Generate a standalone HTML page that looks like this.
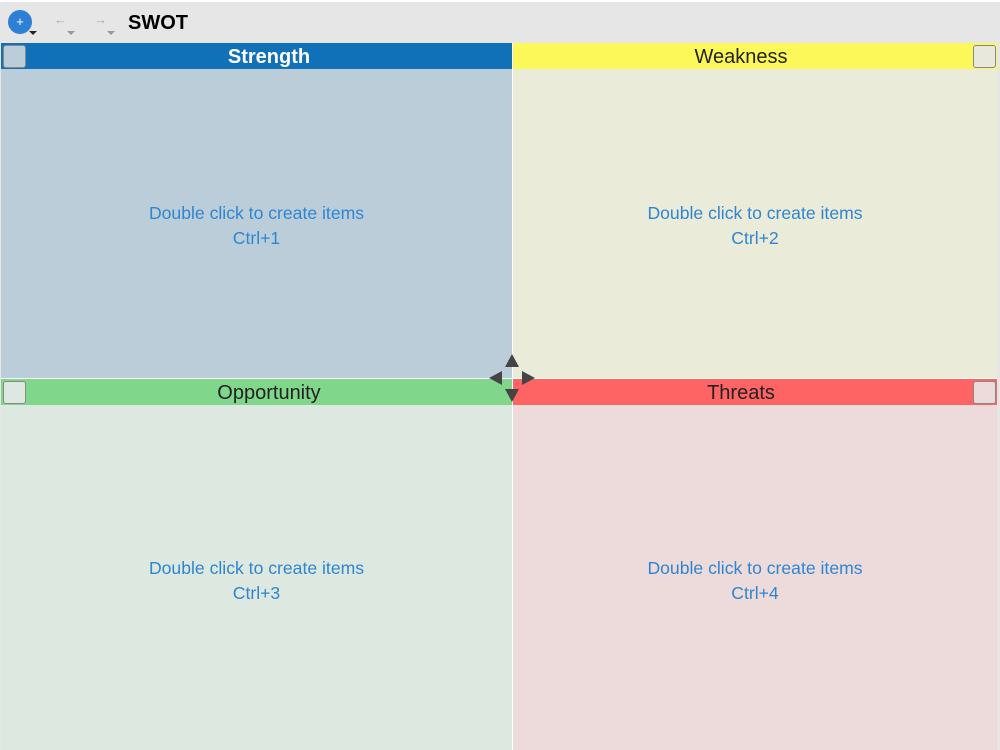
<!DOCTYPE html>
<html><head><style>
body{margin:0;width:1000px;height:750px;overflow:hidden;background:#e6e6e6;font-family:"Liberation Sans",sans-serif;position:relative}
div{position:absolute;box-sizing:border-box}
.h{height:26px;font-size:20px;line-height:29px;text-align:center;color:#222}
.cb{width:23px;height:23px;border:1px solid #888;border-radius:3px;background:#e8e8dc}
.t{color:#2e86d0;font-size:17.6px;text-align:center;line-height:25px}
.tri{width:0;height:0}
</style></head><body>
<div style="left:0;top:0;width:1000px;height:2px;background:#fff"></div>
<div style="left:8px;top:10px;width:24px;height:24px;border-radius:50%;background:#2e7fd6;color:#fff;font-size:13px;text-align:center;line-height:23px">+</div>
<div class="tri" style="left:29px;top:31px;border-left:4px solid transparent;border-right:4px solid transparent;border-top:4px solid #222"></div>
<div style="left:54px;top:12px;color:#aaa;font-size:13px">←</div>
<div class="tri" style="left:67px;top:31px;border-left:4px solid transparent;border-right:4px solid transparent;border-top:4px solid #999"></div>
<div style="left:94px;top:12px;color:#aaa;font-size:13px">→</div>
<div class="tri" style="left:107px;top:31px;border-left:4px solid transparent;border-right:4px solid transparent;border-top:4px solid #999"></div>
<div style="left:128px;top:12px;font-size:20px;font-weight:bold;color:#000">SWOT</div>

<div style="left:1px;top:43px;width:511px;height:336px;background:#bccdda"></div>
<div style="left:513px;top:43px;width:484px;height:336px;background:#ebebda"></div>
<div style="left:1px;top:379px;width:511px;height:371px;background:#dde8e0"></div>
<div style="left:513px;top:379px;width:484px;height:371px;background:#eddadb"></div>
<div style="left:512px;top:43px;width:1px;height:707px;background:#fff"></div>
<div style="left:1px;top:378px;width:996px;height:1px;background:#fff"></div>

<div class="h" style="left:1px;top:43px;width:511px;background:#1070b8;color:#fff;font-weight:bold;padding-left:25px">Strength</div>
<div class="h" style="left:513px;top:43px;width:484px;background:#fdf85a;padding-right:28px">Weakness</div>
<div class="h" style="left:1px;top:379px;width:511px;background:#80d68a;padding-left:25px">Opportunity</div>
<div class="h" style="left:513px;top:379px;width:484px;background:#fe6464;padding-right:28px">Threats</div>

<div class="cb" style="left:3px;top:45px;background:#bccdda"></div>
<div class="cb" style="left:973px;top:45px"></div>
<div class="cb" style="left:3px;top:381px;background:#dde8e0"></div>
<div class="cb" style="left:973px;top:381px;background:#eddadb"></div>

<div class="t" style="left:1px;top:201px;width:511px">Double click to create items<br>Ctrl+1</div>
<div class="t" style="left:513px;top:201px;width:484px">Double click to create items<br>Ctrl+2</div>
<div class="t" style="left:1px;top:556px;width:511px">Double click to create items<br>Ctrl+3</div>
<div class="t" style="left:513px;top:556px;width:484px">Double click to create items<br>Ctrl+4</div>

<div class="tri" style="left:505px;top:354px;border-left:7px solid transparent;border-right:7px solid transparent;border-bottom:13px solid #444"></div>
<div class="tri" style="left:505px;top:389px;border-left:7px solid transparent;border-right:7px solid transparent;border-top:13px solid #444"></div>
<div class="tri" style="left:489px;top:371px;border-top:7px solid transparent;border-bottom:7px solid transparent;border-right:13px solid #444"></div>
<div class="tri" style="left:522px;top:371px;border-top:7px solid transparent;border-bottom:7px solid transparent;border-left:13px solid #444"></div>
</body></html>
